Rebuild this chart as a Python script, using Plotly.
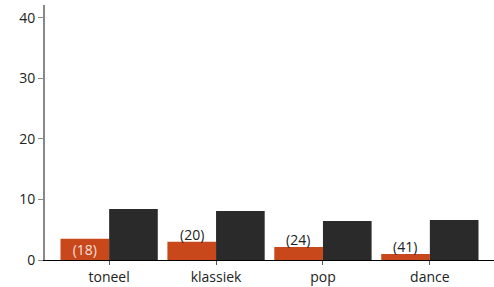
import plotly.graph_objects as go

categories = ["toneel", "klassiek", "pop", "dance"]
orange_values = [3.5, 3.0, 2.15, 1.0]
dark_values = [8.4, 8.1, 6.45, 6.6]
orange_labels = ["(18)", "(20)", "(24)", "(41)"]
label_inside = [True, False, False, False]
y_ticks = [0, 10, 20, 30, 40]

FONT = "Open Sans"

fig = go.Figure()
fig.add_trace(go.Bar(
    x=categories, y=orange_values, marker_color="#C8481C",
    marker_line_width=0,
    text=[t if ins else "" for t, ins in zip(orange_labels, label_inside)],
    textposition="inside",
    insidetextanchor="middle", constraintext="none",
    insidetextfont=dict(family=FONT, size=14, color="rgba(255,255,255,0.85)"),
    cliponaxis=False, hoverinfo="skip",
))
fig.add_trace(go.Bar(
    x=categories, y=dark_values, marker_color="#2a2a2a",
    marker_line_width=0, hoverinfo="skip",
))

for cat, val, lab, ins in zip(categories, orange_values, orange_labels, label_inside):
    if ins:
        continue
    fig.add_annotation(
        x=cat, y=val, text=lab, showarrow=False, xshift=-24.5, yshift=-4,
        yanchor="bottom", font=dict(family=FONT, size=14, color="#222"),
    )

fig.update_layout(
    width=494, height=287,
    margin=dict(l=45, r=0, t=5, b=27),
    barmode="group", bargap=0.09, bargroupgap=0,
    showlegend=False,
    plot_bgcolor="white", paper_bgcolor="white",
    font=dict(family=FONT, size=14, color="#222"),
)
fig.update_xaxes(
    range=[-0.6, 3.6], showline=True, linecolor="black", linewidth=1,
    ticks="outside", ticklen=4, tickcolor="#555", showgrid=False,
    tickfont=dict(family=FONT, size=14, color="#222"),
)
fig.update_yaxes(
    range=[0, 42.1], tickvals=y_ticks, showline=True, linecolor="#888", linewidth=2,
    ticks="outside", ticklen=5, tickcolor="#888", showgrid=False, zeroline=False,
    tickfont=dict(family=FONT, size=14, color="#222"),
)
fig.write_html(
    "out.html",
    config={"displayModeBar": False, "staticPlot": True},
    post_script="document.body.style.margin='0';document.body.style.overflow='hidden';",
)
